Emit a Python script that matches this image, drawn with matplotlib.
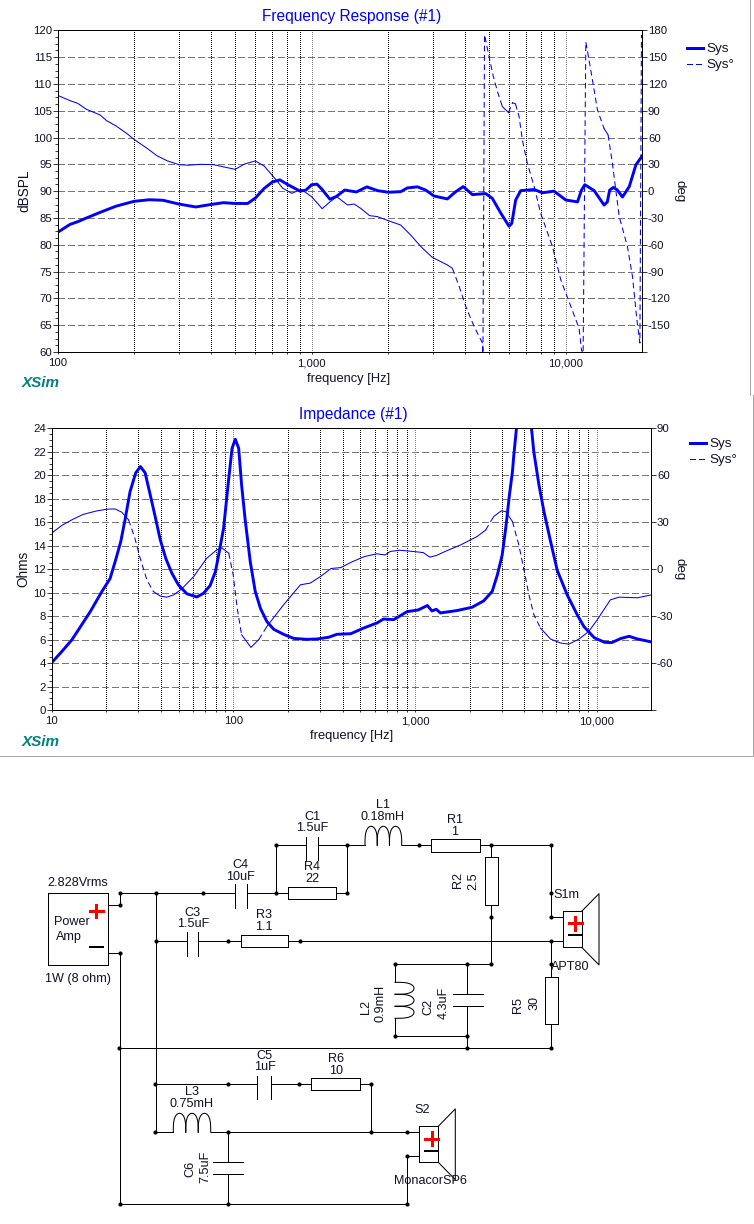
import numpy as np
import matplotlib
matplotlib.use("Agg")
import matplotlib.pyplot as plt
from matplotlib.lines import Line2D
from matplotlib.patches import Rectangle

plt.rcParams['font.family'] = ['Liberation Sans', 'DejaVu Sans']
plt.rcParams['lines.antialiased'] = False
plt.rcParams['patch.antialiased'] = False

BLUE = '#0000ff'
TEXT = '#10102a'
W, H = 754, 1224
PX = 0.55  # straight thin line, comes out one pixel wide without antialiasing
CURVE = 0.75  # sloped thin line, drawn with antialiasing

# ---- frequency response
spl_f = [100, 112, 120, 130, 150, 170, 200, 230, 260, 300, 350, 400, 450, 500, 560, 600, 650, 700, 750,
         800, 900, 950, 1000, 1050, 1100, 1180, 1250, 1350, 1500, 1650, 1814, 2000, 2240, 2380, 2610,
         2810, 3030, 3420, 3690, 3950, 4290, 4840, 5140, 5550, 5980, 6130, 6350, 6650, 7510, 8090,
         8990, 10000, 11120, 11530, 11880, 12930, 14150, 14570, 14880, 15390, 15970, 16710, 17770,
         18870, 20000]
spl_db = [82.3, 83.8, 84.3, 85.0, 86.2, 87.2, 88.1, 88.4, 88.3, 87.6, 87.05, 87.5, 87.85, 87.7, 87.7, 88.7,
          90.5, 91.7, 92.1, 91.3, 90.0, 90.2, 91.2, 91.3, 90.3, 88.5, 89.0, 90.2, 89.85, 90.8, 90.1, 89.8,
          89.9, 90.6, 90.8, 90.2, 89.1, 88.55, 89.9, 90.85, 89.35, 89.55, 88.65, 85.9, 83.45, 84.0,
          88.35, 90.1, 90.3, 89.7, 90.0, 88.35, 88.0, 90.2, 91.2, 90.1, 87.4, 88.0, 90.2, 90.7, 90.2,
          88.9, 90.85, 94.9, 96.6]

spl_phase_f = [100, 112, 120, 130, 147, 156, 170, 187, 200, 225, 246, 270, 300, 327, 363, 410, 500, 545,
               600, 650, 716, 770, 835, 910, 1000, 1100, 1170, 1255, 1385, 1470, 1560, 1690, 1814, 2020,
               2240, 2450, 2690, 2980, 3420, 3580, 3810, 4040, 4360, 4700, 4720, 4790, 4990, 5170, 5390,
               5630, 5950, 6170, 6340, 6550, 6750, 7060, 7510, 7970, 8860, 9560, 10300, 11280, 11530,
               11700, 11990, 12540, 13320, 14150, 14670, 15260, 15730, 16230, 17480, 18300, 19040, 19570,
               19850]
spl_phase = [107.3, 101.3, 98.3, 91.6, 85.3, 78.9, 73, 64.7, 58, 48, 39.7, 34, 29.7, 29, 30, 29.7, 24.4,
             30.4, 33.8, 28.2, 14.4, 3.2, -2.4, 2, -6.2, -19.6, -12.9, -6.2, -15.5, -14.4, -19.3, -27.4,
             -28.5, -33.4, -37.9, -49, -62, -74, -82.6, -86.4, -107, -129, -151.7, -170, -182, 175, 150.6,
             130, 111, 94.6, 87.9, 99, 97.6, 83.4, 57, 31, 5, -25, -62, -99.4, -123.7, -153.5, -177.8,
             -182, 167, 135.6, 90.9, 70, 62.9, 31, 1.3, -28.5, -62, -95.7, -144, -170, 175]

# ---- impedance
imp_f = [10, 11.35, 12.9, 14.6, 16.3, 18.9, 20.96, 22.5, 24, 25.4, 27, 29, 30.8, 32.7, 34.9, 37.1, 39.6,
         42.5, 45.9, 49.9, 55.5, 62.9, 68.5, 74.5, 79.7, 83, 88.4, 94.3, 98.4, 102.5, 107, 111, 116, 124,
         132, 141, 153, 167, 189, 215, 254, 289, 335, 372, 443, 525, 617, 671, 764, 905, 1040, 1170, 1240,
         1310, 1380, 1700, 2060, 2390, 2660, 2840, 3020, 3160, 3310, 3440, 3500, 3620, 3980, 4380, 4510,
         4810, 5130, 5580, 6070, 6890, 7830, 8520, 9700, 11050, 12100, 13630, 15100, 16800, 20000]
imp_ohm = [4.03, 4.97, 5.97, 7.24, 8.38, 10.1, 11.2, 12.8, 14.35, 16.3, 18.6, 20.2, 20.74, 20.2, 18.3, 16.5,
           14.5, 12.9, 11.65, 10.65, 9.9, 9.63, 9.94, 10.6, 11.8, 13.2, 15.5, 19.7, 22.3, 23.07, 22.3, 19.2,
           16.3, 12.6, 10.1, 8.66, 7.53, 6.87, 6.45, 6.1, 6.02, 6.05, 6.2, 6.45, 6.5, 7.0, 7.41, 7.75, 7.7,
           8.38, 8.52, 8.9, 8.44, 8.58, 8.27, 8.47, 8.75, 9.3, 10.1, 11.5, 13.2, 15.5, 18.3, 20.3, 21.7, 24,
           27, 24, 22, 19.2, 16.9, 14.35, 11.9, 9.8, 8.1, 7.1, 6.16, 5.77, 5.74, 6.1, 6.28, 6.05, 5.8]

imp_phase_f = [10, 11.35, 12.9, 14.9, 17.7, 20.1, 22.3, 24.3, 26.5, 28.7, 30.7, 33.4, 36.3, 39.6, 43, 47, 52,
               60.5, 71.4, 81, 86.5, 94.3, 99.8, 105, 111, 125, 138, 153, 189, 234, 265, 302, 345, 391, 443,
               525, 617, 685, 731, 826, 975, 1110, 1205, 1310, 1465, 1785, 2200, 2450, 2710, 2980, 3160,
               3440, 3730, 3980, 4240, 4510, 4910, 5580, 6330, 7040, 7990, 9050, 10090, 11900, 13300, 16800,
               20000]
imp_phase = [23, 27.9, 31.5, 35, 37.2, 38.3, 38.5, 36.4, 31.5, 19.8, 7, -6.8, -14.3, -17.2, -17.9, -16.4,
             -12.6, -4.7, 7, 12.3, 13.6, 10.2, -3.6, -24.9, -41.9, -50, -45, -36.6, -22.8, -10, -8.9, -4.7,
             0.4, 1, 4.3, 8, 9.8, 9.1, 11.3, 12.1, 11.3, 10.6, 7.7, 8.7, 11.3, 15.5, 20.9, 25, 33.6, 37.2,
             36.8, 30.4, 15.5, -0.4, -16.4, -29, -37.7, -44.7, -47.2, -47.9, -44.7, -39.8, -32.3, -19.6,
             -17.9, -18.3, -16.4]

# ---- axis labels
spl_yticks = list(range(60, 125, 5))
spl_phase_ticks = list(range(-180, 210, 30))
imp_yticks = list(range(0, 26, 2))
imp_phase_ticks = list(range(-90, 120, 30))

# ---- schematic, in pixels of the picture
wires = [
    (108.3, 905.3, 120, 905.3), (120, 893.3, 120, 905.3), (120, 893.3, 234.7, 893.3), (246.7, 893.3, 288.3, 893.3),
    (275.7, 845.3, 275.7, 893.3), (275.7, 845.3, 305.7, 845.3), (317.7, 845.3, 365, 845.3), (401.7, 845.3, 431, 845.3),
    (479.7, 845.3, 551, 845.3), (336, 893.3, 347.3, 893.3), (347.3, 845.3, 347.3, 893.3), (491.3, 845.3, 491.3, 857.3),
    (491.3, 905.3, 491.3, 964.3), (395, 964.3, 491.3, 964.3), (395, 964.3, 395, 982.3), (395, 1018.3, 395, 1036),
    (395, 1036, 467.3, 1036), (467.3, 964.3, 467.3, 994), (467.3, 1006, 467.3, 1048.3), (119.3, 1048.3, 551, 1048.3),
    (551, 940.7, 551, 977.3), (551, 1024.3, 551, 1048.3), (551, 845.3, 551, 916.7), (551, 916.7, 563.3, 916.7),
    (156, 940.7, 186.7, 940.7), (198.3, 940.7, 240.7, 940.7), (288.3, 940.7, 563.3, 940.7), (156, 893.3, 156, 1132.3),
    (108.3, 952.7, 120, 952.7), (120, 952.7, 120, 1204), (120, 1204, 407.3, 1204), (407.3, 1156, 407.3, 1204),
    (407.3, 1156, 419.3, 1156), (155, 1084.3, 257.3, 1084.3), (270.5, 1084.3, 311.3, 1084.3), (359.7, 1084.3, 371.3, 1084.3),
    (371.3, 1084.3, 371.3, 1132.3), (155, 1132.3, 173.3, 1132.3), (210.7, 1132.3, 419.3, 1132.3), (228.3, 1132.3, 228.3, 1162.3),
    (228.3, 1174.3, 228.3, 1204),
]
cap_plates = [
    (234.7, 884, 234.7, 907.7), (246.7, 884, 246.7, 907.7), (305.7, 836.7, 305.7, 860), (317.7, 836.7, 317.7, 860),
    (186.7, 932.3, 186.7, 955.7), (198.3, 932.3, 198.3, 955.7), (453.3, 994, 482.7, 994), (453.3, 1006, 482.7, 1006),
    (257.3, 1075.7, 257.3, 1099.3), (270.5, 1075.7, 270.5, 1099.3), (213.3, 1162.3, 242.7, 1162.3), (213.3, 1174.3, 242.7, 1174.3),
]
resistors = [
    (288.3, 887.3, 47.7, 12), (431, 839.3, 48.7, 12.4), (485.3, 857.3, 12.4, 48), (240.7, 935, 47.6, 12),
    (545.3, 977.3, 12.4, 47), (311.3, 1078.3, 48.4, 12),
]
nodes = [
    (120, 893.3), (120, 905.3), (156, 893.3), (203.3, 893.3), (275.7, 893.3), (275.7, 845.3), (347.3, 845.3), (419.3, 845.3),
    (491.3, 845.3), (551, 845.3), (347.3, 893.3), (551, 893.3), (551, 916.7), (491.3, 916.7), (491.3, 964.3), (395, 964.3),
    (467.3, 964.3), (551, 940.7), (551, 964.3), (395, 1036), (467.3, 1036), (467.3, 1048.3), (551, 1048.3), (119.3, 1048.3),
    (156, 940.7), (227.7, 940.7), (299.7, 940.7), (120, 952.7), (155, 1084.3), (155, 1132.3), (227.7, 1084.3), (299.3, 1084.3),
    (371.3, 1084.3), (228.3, 1132.3), (371.3, 1132.3), (407.3, 1132.3), (407.3, 1156), (120, 1204), (228.3, 1204), (407.3, 1204),
]
speakers = [
    (563.3, 911.3, 18.4, 36, 17.3, 17.6),
    (419.3, 1126.3, 19, 36, 17, 17.4),
]
polarity_plus = [(96.3, 911), (575.3, 923.3), (431.7, 1138.7)]
polarity_minus = [(96.3, 946.7), (575.3, 934.7), (431.7, 1150.7)]
coils_h = [(365, 845.3, 36.7), (173.3, 1132.3, 37.4)]
coils_v = [(395, 982.3, 36)]

labels_h = [
    ('C1', 312, 816.7), ('1.5uF', 312, 828), ('C4', 240, 865), ('10uF', 240, 876.7), ('R4', 312, 867), ('22', 312, 879),
    ('C3', 192, 912.7), ('1.5uF', 192.7, 924), ('R3', 264, 915), ('1.1', 264, 927), ('L1', 382.7, 804.7),
    ('0.18mH', 383, 816.7), ('R1', 455, 820), ('1', 455, 832), ('2.828Vrms', 77.5, 883), ('Power', 71.7, 921.7),
    ('Amp', 69.3, 936.7), ('1W (8 ohm)', 78.3, 979), ('C5', 264.7, 1055.7), ('1uF', 264.7, 1067), ('R6', 336, 1058.7),
    ('10', 336, 1070.7), ('L3', 192, 1091.7), ('0.75mH', 192, 1103.7), ('S2', 422.3, 1110), ('MonacorSP6', 430, 1181.3),
]
labels_left = [('S1m', 553.3, 895), ('APT80', 551, 966.7)]
labels_v = [
    ('R2', 458, 880), ('2.5', 473, 881), ('L2', 366, 1007), ('0.9mH', 381, 1003), ('C2', 428, 1007), ('4.3uF', 444, 1003),
    ('R5', 518, 1005), ('30', 534, 1003), ('C6', 190, 1169), ('7.5uF', 205, 1167),
]


def box(left, top, right, bottom):
    return [left / W, 1 - bottom / H, (right - left) / W, (bottom - top) / H]


# short sampled segments come out solid, only the steep runs look dashed
def phase_line(ax, f, deg):
    pts = ax.transData.transform(np.column_stack([f, deg]))
    d = np.diff(pts, axis=0)
    steep = np.abs(d[:, 1]) > 1.6 * np.abs(d[:, 0])
    start = 0
    for i in range(1, len(steep) + 1):
        if i == len(steep) or steep[i] != steep[start]:
            style = (0, (5.5, 3.5)) if steep[start] else '-'
            ax.plot(f[start:i + 1], deg[start:i + 1], color=BLUE, lw=CURVE, ls=style, antialiased=True)
            start = i


def make_chart(rect, xlim, ylim, yticks, phase_ticks, phase_lim, minor_y, xmajor, xlabels, f1, v1, f2, v2,
               ylabel, title, title_y, label_pos, xsim_pos, legend_pos, overlay):
    ax = fig.add_axes(box(*rect))
    ax.set_xscale('log')
    ax.set_xlim(*xlim)
    ax.set_ylim(*ylim)
    ax.set_yticks(yticks)
    ax.set_yticks(np.arange(ylim[0], ylim[1] + minor_y, minor_y), minor=True)
    ax.set_xticks(xmajor)
    ax.set_xticklabels(xlabels)
    dec = [m * 10 ** e for e in range(1, 5) for m in range(2, 10)]
    dec = [d for d in dec if xlim[0] < d < xlim[1]]
    ax.set_xticks(dec, minor=True)
    ax.set_xticklabels([], minor=True)
    ax.tick_params(axis='x', which='both', length=1.6, width=PX, pad=3, labelsize=8.2, labelcolor=TEXT)
    ax.tick_params(axis='y', which='major', length=3.6, width=PX, pad=0.5, labelsize=8.2, labelcolor=TEXT)
    ax.tick_params(axis='y', which='minor', length=2.2, width=PX)
    ax.grid(True, axis='y', which='major', color='#777777', lw=PX, ls=(0, (8, 4)))
    ax.grid(True, axis='x', which='minor', color='black', lw=PX, ls=(0, (1.3, 2.6)))
    ax.grid(True, axis='x', which='major', color='#808080', lw=PX, ls=(0, (1.3, 2.6)))
    ax.set_axisbelow(True)
    ax.plot(f1, v1, color=BLUE, lw=2.1, antialiased=True)
    ax.set_ylabel(ylabel, fontsize=9.8, color=TEXT)
    ax.yaxis.set_label_coords(label_pos[0], label_pos[1], transform=overlay.transData)
    ax.set_xlabel('frequency [Hz]', fontsize=9.3, color=TEXT)
    ax.xaxis.set_label_coords(label_pos[2], label_pos[3], transform=overlay.transData)
    ax.xaxis.label.set_verticalalignment('center')
    ax.yaxis.label.set_verticalalignment('center')

    ax2 = ax.twinx()
    ax2.set_ylim(*phase_lim)
    ax2.set_yticks(phase_ticks)
    ax2.set_yticklabels([str(t) if t != phase_lim[0] else '' for t in phase_ticks])
    ax2.tick_params(axis='y', length=3.6, width=PX, pad=0.5, labelsize=8.2, labelcolor=TEXT)
    phase_line(ax2, np.array(f2), np.array(v2))
    ax2.set_ylabel('deg', fontsize=9.6, color=TEXT, rotation=270)
    ax2.yaxis.set_label_coords(label_pos[4], label_pos[1], transform=overlay.transData)
    ax2.yaxis.label.set_verticalalignment('center')

    for a in (ax, ax2):
        a.spines['top'].set_linestyle((0, (6, 2)))
        a.spines['bottom'].set_linestyle((0, (6, 2)))
        a.spines['top'].set_linewidth(PX)
        a.spines['bottom'].set_linewidth(PX)
        a.spines['left'].set_linewidth(0.72)
        a.spines['right'].set_linewidth(0.72)

    overlay.text(title[1], title_y, title[0], fontsize=11.2, color=BLUE, ha='center', va='center')
    overlay.text(xsim_pos[0], xsim_pos[1], 'XSim', fontsize=11, color='#008080', fontweight='bold',
                 fontstyle='italic', va='center')

    handles = [Line2D([], [], color=BLUE, lw=2.1, antialiased=True),
               Line2D([], [], color=BLUE, lw=CURVE, ls=(0, (5.5, 3.5)), antialiased=True)]
    ax2.legend(handles, ['Sys', 'Sys°'], loc='upper left', bbox_to_anchor=legend_pos,
               bbox_transform=overlay.transData, frameon=False, fontsize=9.7, handlelength=1.2,
               handletextpad=0.25, borderpad=0, borderaxespad=0, labelspacing=0.25, labelcolor=TEXT)
    return ax


def draw_schematic(o):
    lw = PX
    for x1, y1, x2, y2 in wires + cap_plates:
        o.plot([x1, x2], [y1, y2], color='black', lw=lw)
    for x, y, w, h in resistors:
        o.add_patch(Rectangle((x, y), w, h, fill=False, ec='black', lw=lw))
    o.add_patch(Rectangle((48.3, 893.3), 60, 72, fill=False, ec='black', lw=lw))
    nx, ny = zip(*nodes)
    o.plot(nx, ny, ls='', marker='o', ms=3, color='black', mew=0)
    for x, y, w, h, dx, dy in speakers:
        o.add_patch(Rectangle((x, y), w, h, fill=False, ec='black', lw=lw))
        o.plot([x + w, x + w + dx, x + w + dx, x + w],
               [y, y - dy, y + h + dy, y + h], color='black', lw=CURVE, antialiased=True)
    for x, y in polarity_plus:
        o.plot([x - 6.3, x + 6.3], [y, y], color='#ff0000', lw=1.0)
        o.plot([x, x], [y - 6.3, y + 6.3], color='#ff0000', lw=1.0)
    for x, y in polarity_minus:
        o.plot([x - 6.3, x + 6.3], [y, y], color='black', lw=1.1)
    t = np.linspace(0, np.pi, 30)
    for x0, y0, length in coils_h:
        step = length / 3
        for k in range(3):
            o.plot(x0 + step * k + step / 2 * (1 - np.cos(t)), y0 - 19 * np.sin(t) ** 0.6,
                   color='black', lw=CURVE, antialiased=True)
    for x0, y0, length in coils_v:
        step = length / 3
        for k in range(3):
            o.plot(x0 + 19 * np.sin(t) ** 0.6, y0 + step * k + step / 2 * (1 - np.cos(t)),
                   color='black', lw=CURVE, antialiased=True)
    for s, x, y in labels_h:
        o.text(x, y, s, fontsize=9.1, color=TEXT, ha='center', va='center')
    for s, x, y in labels_left:
        o.text(x, y, s, fontsize=9.1, color=TEXT, ha='left', va='center')
    for s, x, y in labels_v:
        o.text(x, y, s, fontsize=9.1, color=TEXT, ha='center', va='center', rotation=90)


fig = plt.figure(figsize=(W / 100, H / 100), dpi=100)
overlay = fig.add_axes([0, 0, 1, 1])
overlay.set_xlim(0, W)
overlay.set_ylim(H, 0)
overlay.axis('off')

# window frames in grey
overlay.plot([750, 750], [0, 395], color='#a8a8a8', lw=PX)
overlay.plot([753, 753], [395, 756.3], color='#a8a8a8', lw=PX)
overlay.plot([0, 753], [756.3, 756.3], color='#a8a8a8', lw=PX)

make_chart((57.5, 30.3, 642.3, 352), (100, 20000), (60, 120), spl_yticks, spl_phase_ticks, (-180, 180), 1.25,
           [100, 1000, 10000], ['100', '1,000', '10,000'], spl_f, spl_db, spl_phase_f, spl_phase,
           'dBSPL', ('Frequency Response (#1)', 351.5), 16, (24, 191, 349, 379, 679), (22, 383), (687, 43), overlay)
make_chart((51.7, 428.3, 651.3, 710), (10, 20000), (0, 24), imp_yticks, imp_phase_ticks, (-90, 90), 0.5,
           [10, 100, 1000, 10000], ['10', '100', '1,000', '10,000'], imp_f, imp_ohm, imp_phase_f, imp_phase,
           'Ohms', ('Impedance (#1)', 353), 414, (23, 569, 352, 736, 680), (22, 741.7), (690, 438), overlay)

draw_schematic(overlay)

fig.savefig('out.png', dpi=100)
